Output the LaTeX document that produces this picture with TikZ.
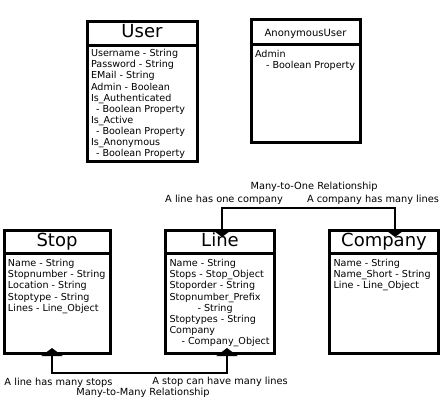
\documentclass[tikz,border=0pt]{standalone}
\usepackage{fontspec}
\setmainfont{DejaVu Sans}
\usetikzlibrary{arrows.meta}

\newcommand{\attrs}[4]{\vbox to #2{\vskip#3\hbox to #1{\begin{tabular}{@{}l@{}}#4\end{tabular}\hss}\vfil}}

\tikzset{every picture/.style={line width=0.75pt}}
\tikzset{
	classtitle/.style={draw, line width=3pt, outer sep=0pt, inner sep=0pt, anchor=north west, text height=13pt, text depth=4pt, font=\fontsize{18}{20}\selectfont},
	classbody/.style={draw, line width=3pt, outer sep=0pt, inner xsep=4pt, inner ysep=3pt, anchor=north, font=\fontsize{9.6}{11.1}\selectfont},
	relboth/.style={line width=2.2pt, arrows={Triangle[width=21pt,length=8pt]-Triangle[width=21pt,length=8pt]}},
	rellabel/.style={inner sep=0pt, font=\fontsize{9.8}{11}\selectfont}
}

\begin{document}
\begin{tikzpicture}[x=1pt,y=1pt,yscale=-1,xscale=1]
	\useasboundingbox (0,0) rectangle (441,400);

	%Class User
	\node[classtitle, minimum width=110pt, minimum height=24pt] (user) at (87,21) {User};
	\node[classbody] (userattrs) at (user.south) {\attrs{102pt}{110pt}{1pt}{Username - String\\Password - String\\EMail - String\\Admin - Boolean\\Is\_Authenticated\\\hspace*{5pt}- Boolean Property\\Is\_Active\\\hspace*{5pt}- Boolean Property\\Is\_Anonymous\\\hspace*{5pt}- Boolean Property}};
	%Class AnonymousUser
	\node[classtitle, minimum width=109pt, minimum height=25pt, font=\fontsize{10}{12}\selectfont] (anonuser) at (251,19) {AnonymousUser};
	\node[classbody] (anonuserattrs) at (anonuser.south) {\attrs{101pt}{92pt}{3pt}{Admin\\\hspace*{11pt}- Boolean Property}};
	%Class Stop
	\node[classtitle, minimum width=106pt, minimum height=23pt] (stop) at (4,230) {Stop};
	\node[classbody] (stopattrs) at (stop.south) {\attrs{98pt}{94pt}{3pt}{Name - String\\Stopnumber - String\\Location - String\\Stoptype - String\\Lines - Line\_Object}};
	%Class Line
	\node[classtitle, minimum width=109pt, minimum height=23pt] (line) at (165.5,230) {Line};
	\node[classbody] (lineattrs) at (line.south) {\attrs{101pt}{94pt}{3pt}{Name - String\\Stops - Stop\_Object\\Stoporder - String\\Stopnumber\_Prefix\\\hspace*{28pt}- String\\Stoptypes - String\\Company\\\hspace*{12pt}- Company\_Object}};
	%Class Company
	\node[classtitle, minimum width=109pt, minimum height=23pt] (company) at (329.5,230) {Company};
	\node[classbody] (companyattrs) at (company.south) {\attrs{101pt}{94pt}{3pt}{Name - String\\Name\_Short - String\\Line - Line\_Object}};

	%Straight Lines
	\coordinate (m2o) at (308,208);
	\draw[relboth] ([xshift=2pt,yshift=7pt]line.north) |- (m2o) -| ([xshift=11pt,yshift=7pt]company.north);
	%Straight Lines
	\coordinate (m2m) at (140,373);
	\draw[relboth] ([xshift=-5pt,yshift=-5pt]stopattrs.south) |- (m2m) -| ([xshift=7pt,yshift=-5pt]lineattrs.south);

	% Text Node
	\node[rellabel] (m2olabel) at (314,187) {Many-to-One Relationship};
	% Text Node
	\node[rellabel] (linecompany) at (224,200) {A line has one company};
	% Text Node
	\node[rellabel] (companyline) at (373,200) {A company has many lines};
	% Text Node
	\node[rellabel] (linestops) at (58.5,383) {A line has many stops};
	% Text Node
	\node[rellabel] (stoplines) at (220,382) {A stop can have many lines};
	% Text Node
	\node[rellabel] (m2mlabel) at (143,393) {Many-to-Many Relationship};

\end{tikzpicture}
\end{document}
